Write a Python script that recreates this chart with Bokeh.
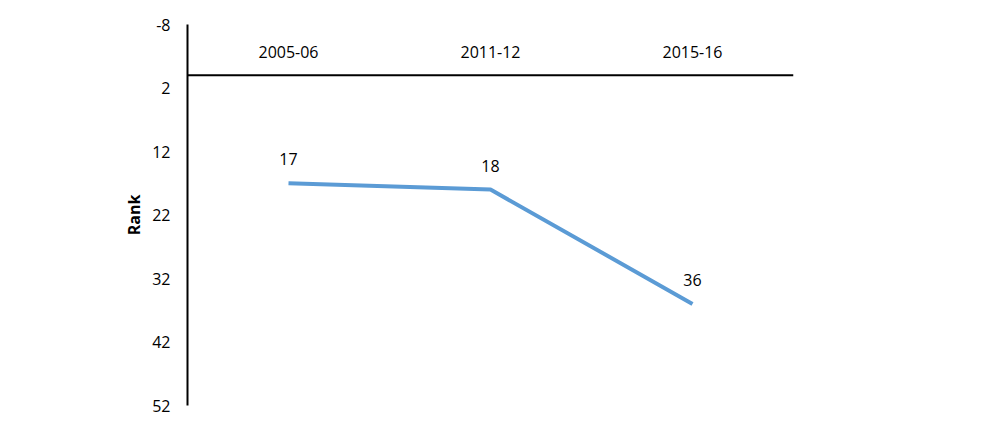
from bokeh.plotting import figure
from bokeh.models import Range1d, FactorRange, FixedTicker, Span, ColumnDataSource, LinearAxis, PrintfTickFormatter
from bokeh.core.properties import value
from bokeh.embed import file_html
from bokeh.resources import INLINE

categories = ["2005-06", "2011-12", "2015-16"]
ranks = [17, 18, 36]
rank_labels = ["17", "18", "36"]
y_ticks = [-8, 2, 12, 22, 32, 42, 52]

FONT = "Open Sans"
FS = "16px"

p = figure(width=1000, height=430, output_backend="svg", toolbar_location=None,
           x_range=FactorRange(*categories), y_range=Range1d(52, -8),
           x_axis_location=None, y_axis_location=None,
           min_border_left=187, min_border_right=207, min_border_top=24, min_border_bottom=25)
p.outline_line_color = None
p.xgrid.visible = False
p.ygrid.visible = False
p.background_fill_color = "white"
p.border_fill_color = "white"

yaxis = LinearAxis(ticker=FixedTicker(ticks=y_ticks), formatter=PrintfTickFormatter(format="%d"))
yaxis.axis_line_color = "black"
yaxis.axis_line_width = 2
yaxis.major_tick_line_color = None
yaxis.minor_tick_line_color = None
yaxis.major_label_text_font = FONT
yaxis.major_label_text_font_size = FS
yaxis.major_label_text_color = "black"
yaxis.major_label_standoff = 11
yaxis.axis_label = "Rank"
yaxis.axis_label_text_font = FONT
yaxis.axis_label_text_font_style = "bold"
yaxis.axis_label_text_font_size = FS
yaxis.axis_label_text_color = "black"
yaxis.axis_label_standoff = 4
p.add_layout(yaxis, "left")

p.add_layout(Span(location=0, dimension="width", line_color="black", line_width=2))

src = ColumnDataSource(dict(cat=categories, rank=ranks, lab=rank_labels))
p.line("cat", "rank", source=src, line_color="#5B9BD5", line_width=4)
p.text("cat", "rank", text="lab", source=src, y_offset=-24,
       text_align="center", text_baseline="middle",
       text_font=value(FONT), text_font_size=FS, text_color="black")

cat_src = ColumnDataSource(dict(cat=categories, y=[-3.7] * len(categories), lab=categories))
p.text("cat", "y", text="lab", source=cat_src,
       text_align="center", text_baseline="middle",
       text_font=value(FONT), text_font_size=FS, text_color="black")

open("out.html", "w").write(file_html(p, INLINE))
